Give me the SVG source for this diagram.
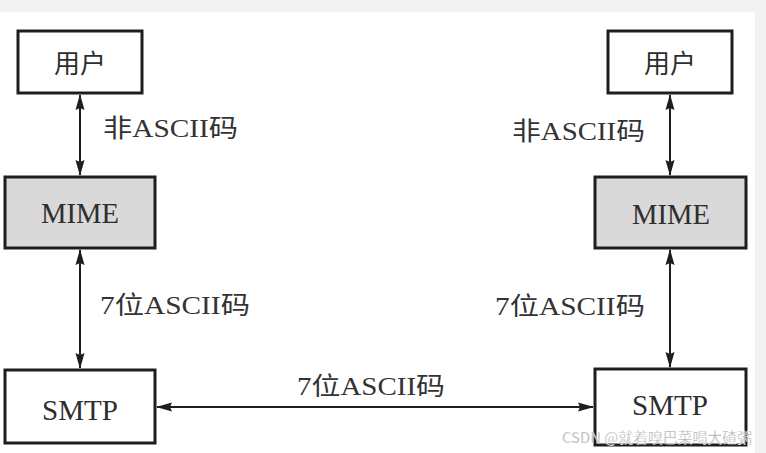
<svg xmlns="http://www.w3.org/2000/svg" width="766" height="453" viewBox="0 0 766 453">
<defs>
<style>
.box{stroke:#1e1e1e;stroke-width:3;fill:#fff}
.gray{fill:#d9d9d9}
.lbl{font-family:"Liberation Serif","Noto Sans CJK SC",serif;fill:#333}
.node{font-family:"Liberation Serif","Noto Sans CJK SC",serif;fill:#2e2e2e;text-anchor:middle}
.con{stroke:#1e1e1e;stroke-width:2;fill:none;marker-start:url(#ah);marker-end:url(#ah)}
.wm{font-family:"Noto Sans CJK SC","Liberation Sans",sans-serif;font-size:15px;fill:#aaa;stroke:#fff;stroke-width:0.3}
</style>
<marker id="ah" viewBox="0 0 16 10" refX="15" refY="5" markerWidth="16" markerHeight="10" markerUnits="userSpaceOnUse" orient="auto-start-reverse">
<path d="M0,0.5 L16,5 L0,9.5 L2,5 Z" fill="#1e1e1e"/>
</marker>
</defs>
<rect width="766" height="453" fill="#f2f2f2"/>
<rect x="0" y="12" width="755" height="441" fill="#fff"/>
<g id="connectors">
<line class="con" x1="80" y1="95" x2="80" y2="175"/>
<line class="con" x1="80" y1="250" x2="80" y2="368"/>
<line class="con" x1="670" y1="95" x2="670" y2="175"/>
<line class="con" x1="670" y1="250" x2="670" y2="367"/>
<line class="con" x1="157" y1="407" x2="593" y2="407"/>
<text class="lbl" x="103" y="137" font-size="25" textLength="135" lengthAdjust="spacingAndGlyphs">非ASCII码</text>
<text class="lbl" x="512" y="140" font-size="25" textLength="133" lengthAdjust="spacingAndGlyphs">非ASCII码</text>
<text class="lbl" x="100" y="314" font-size="25" textLength="150" lengthAdjust="spacingAndGlyphs">7位ASCII码</text>
<text class="lbl" x="495" y="315" font-size="25" textLength="150" lengthAdjust="spacingAndGlyphs">7位ASCII码</text>
<text class="lbl" x="297" y="395" font-size="25" textLength="148" lengthAdjust="spacingAndGlyphs">7位ASCII码</text>
</g>
<g id="user-left">
<rect class="box" x="18" y="31" width="124" height="62"/>
<text class="node" x="80" y="73" font-size="26">用户</text>
</g>
<g id="mime-left">
<rect class="box gray" x="5" y="177" width="150" height="71"/>
<text class="node" x="80" y="223" font-size="30" textLength="78" lengthAdjust="spacingAndGlyphs">MIME</text>
</g>
<g id="smtp-left">
<rect class="box" x="5" y="370" width="150" height="73"/>
<text class="node" x="80" y="420" font-size="30" textLength="76" lengthAdjust="spacingAndGlyphs">SMTP</text>
</g>
<g id="user-right">
<rect class="box" x="608" y="31" width="124" height="62"/>
<text class="node" x="670" y="73" font-size="26">用户</text>
</g>
<g id="mime-right">
<rect class="box gray" x="595" y="177" width="151" height="71"/>
<text class="node" x="671" y="224" font-size="30" textLength="78" lengthAdjust="spacingAndGlyphs">MIME</text>
</g>
<g id="smtp-right">
<rect class="box" x="595" y="369" width="151" height="76"/>
<text class="node" x="670" y="415" font-size="30" textLength="76" lengthAdjust="spacingAndGlyphs">SMTP</text>
</g>
<text class="wm" x="562" y="443" textLength="190" lengthAdjust="spacingAndGlyphs">CSDN @就着嗅巴菜喝大碴粥</text>
</svg>
